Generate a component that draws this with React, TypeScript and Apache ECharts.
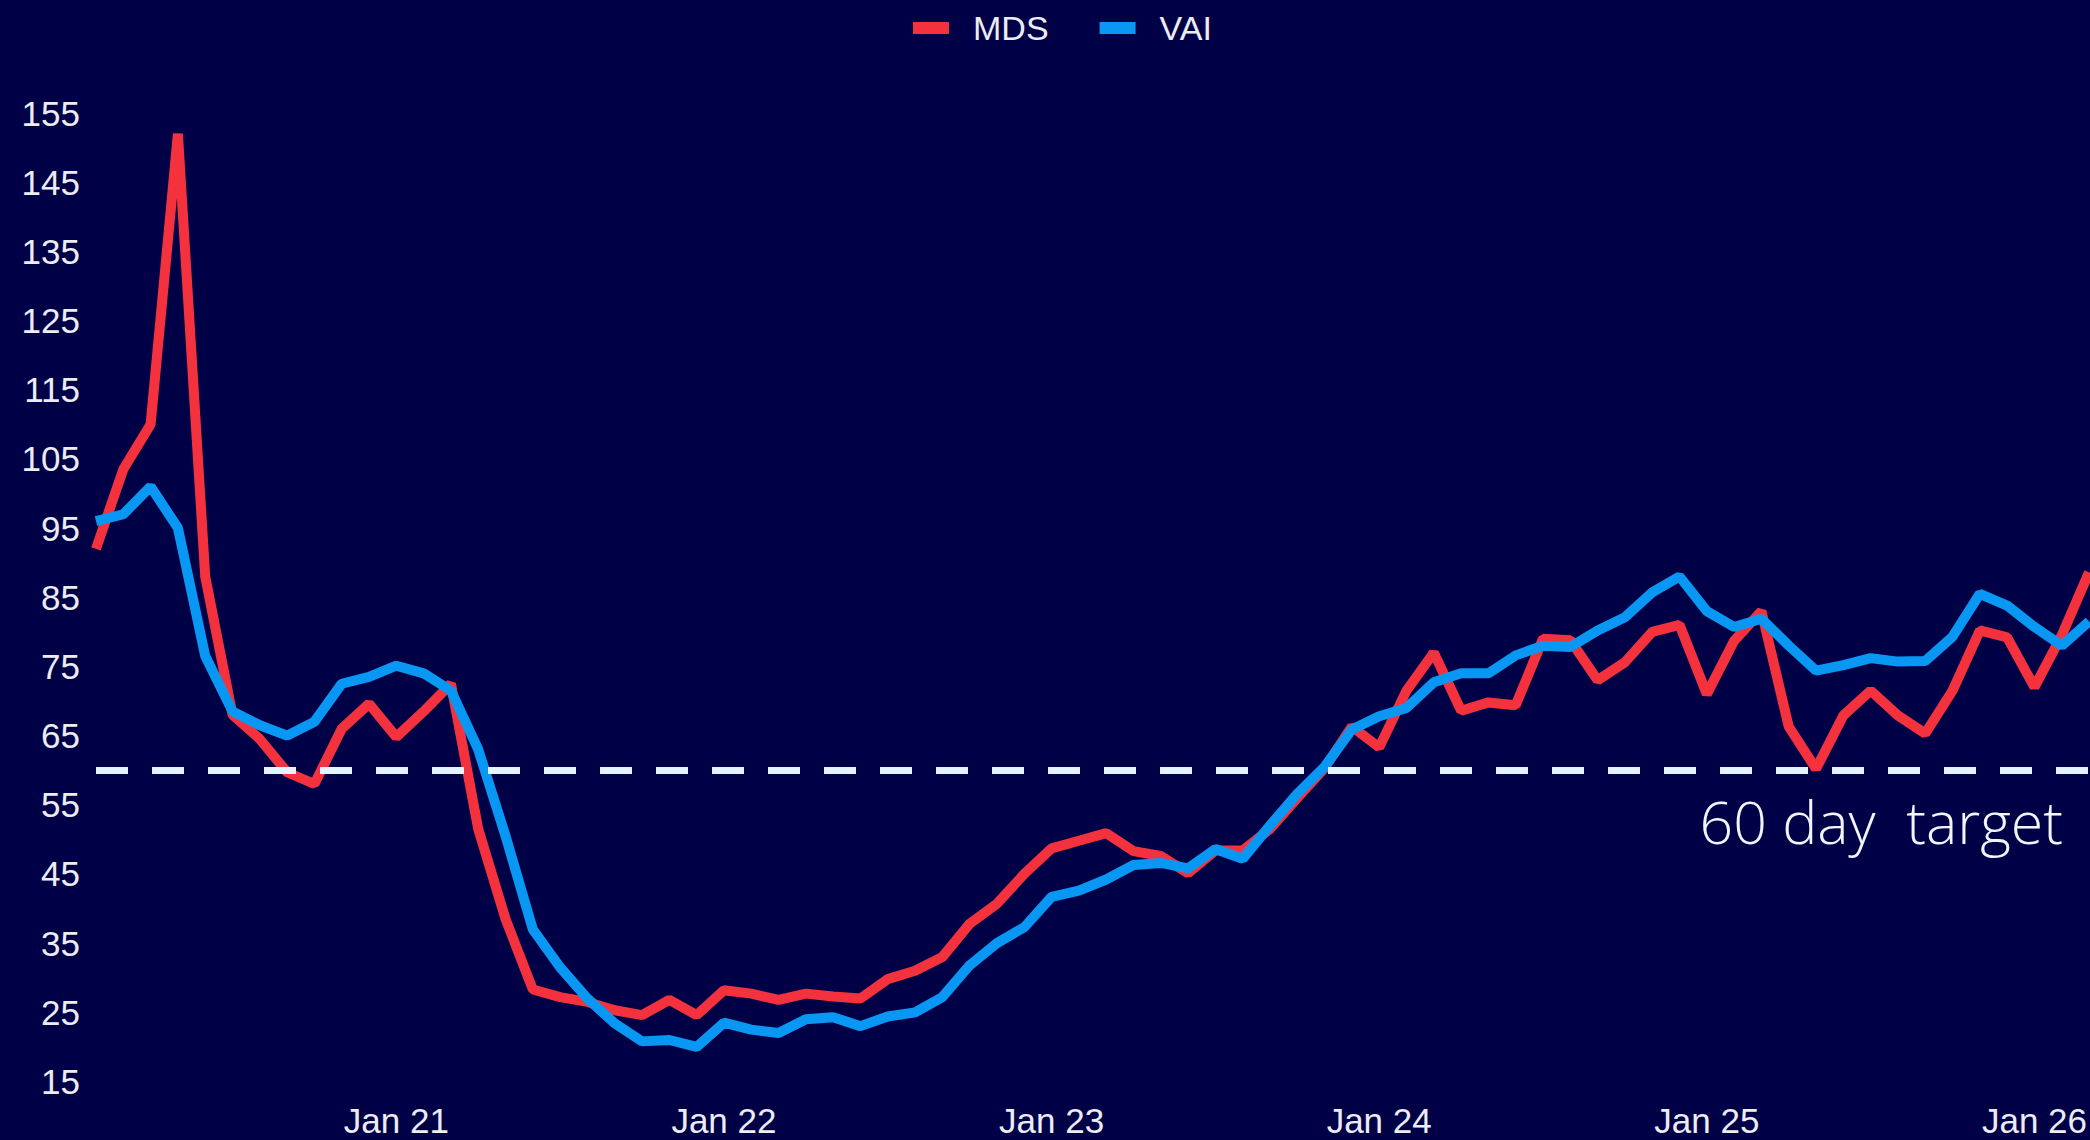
import React, { useEffect, useRef } from "react";
import * as echarts from "echarts";

const MONTHS = [
  "Feb 20", "Mar 20", "Apr 20", "May 20", "Jun 20", "Jul 20", "Aug 20", "Sep 20", "Oct 20", "Nov 20", "Dec 20",
  "Jan 21", "Feb 21", "Mar 21", "Apr 21", "May 21", "Jun 21", "Jul 21", "Aug 21", "Sep 21", "Oct 21", "Nov 21", "Dec 21",
  "Jan 22", "Feb 22", "Mar 22", "Apr 22", "May 22", "Jun 22", "Jul 22", "Aug 22", "Sep 22", "Oct 22", "Nov 22", "Dec 22",
  "Jan 23", "Feb 23", "Mar 23", "Apr 23", "May 23", "Jun 23", "Jul 23", "Aug 23", "Sep 23", "Oct 23", "Nov 23", "Dec 23",
  "Jan 24", "Feb 24", "Mar 24", "Apr 24", "May 24", "Jun 24", "Jul 24", "Aug 24", "Sep 24", "Oct 24", "Nov 24", "Dec 24",
  "Jan 25", "Feb 25", "Mar 25", "Apr 25", "May 25", "Jun 25", "Jul 25", "Aug 25", "Sep 25", "Oct 25", "Nov 25", "Dec 25",
  "Jan 26", "Feb 26", "Mar 26",
];

const MDS = [
  92, 103.5, 110, 152, 88, 68, 64.5, 59.7, 58, 66, 69.6,
  64.8, 68.5, 72.5, 51.5, 38.5, 28.3, 27.2, 26.5, 25.3, 24.6, 26.8, 24.6,
  28.2, 27.7, 26.8, 27.7, 27.3, 27, 29.8, 31, 33, 37.8, 40.7, 45,
  48.7, 49.8, 50.9, 48.3, 47.6, 45.1, 48.4, 48.4, 51.5, 56, 60.3, 66.3,
  63.3, 71.5, 77, 68.6, 69.8, 69.4, 79, 78.8, 73, 75.6, 80, 81,
  71, 78.7, 83, 66.3, 60.2, 67.9, 71.5, 67.9, 65.3, 71.5, 80.2, 79.2,
  72, 79.5, 88.6,
];

const VAI = [
  96, 97, 101, 95, 76.5, 68.5, 66.5, 65, 67, 72.5, 73.5,
  75.1, 74, 71.5, 63, 50.5, 37, 31.5, 27, 23.4, 20.8, 21, 20,
  23.5, 22.5, 22, 24, 24.3, 23, 24.4, 25, 27.2, 31.8, 35, 37.3,
  41.7, 42.6, 44.2, 46.3, 46.6, 45.8, 48.6, 47.2, 52, 56.6, 60.5, 65.9,
  67.8, 69, 72.7, 74, 74, 76.6, 78, 77.8, 80.2, 82.1, 85.7, 88,
  83, 80.7, 81.9, 78, 74.4, 75.2, 76.2, 75.7, 75.8, 79.3, 85.5, 83.8,
  80.7, 78, 81.5,
];

const TARGET = 60;
const Y_MIN = 15;
const Y_MAX = 155;
const Y_STEP = 10;

const BG = "#000046";
const RED = "#F4323E";
const BLUE = "#0898F4";
const TEXT = "#ECECF4";
const FONT = "'Liberation Sans', Arial, sans-serif";

export default function App() {
  const ref = useRef<HTMLDivElement>(null);

  useEffect(() => {
    if (!ref.current) return;
    const chart = echarts.init(ref.current, undefined, { renderer: "svg" });
    chart.setOption({
      animation: false,
      backgroundColor: BG,
      grid: { left: 96, right: 0, top: 113, bottom: 58.5, containLabel: false },
      legend: {
        data: ["MDS", "VAI"],
        left: 908,
        top: 6,
        icon: "rect",
        itemWidth: 36,
        itemHeight: 12,
        itemGap: 51,
        textStyle: { color: TEXT, fontSize: 34, fontFamily: FONT, padding: [0, 0, 0, 19] },
      },
      xAxis: {
        type: "category",
        data: MONTHS,
        boundaryGap: false,
        axisLine: { show: false },
        axisTick: { show: false },
        splitLine: { show: false },
        axisLabel: {
          interval: (_i: number, v: string) => v.startsWith("Jan"),
          color: TEXT,
          fontSize: 35,
          fontFamily: FONT,
          margin: 21,
          hideOverlap: false,
        },
      },
      yAxis: {
        type: "value",
        min: Y_MIN,
        max: Y_MAX,
        interval: Y_STEP,
        axisLine: { show: false },
        axisTick: { show: false },
        splitLine: { show: false },
        axisLabel: { color: TEXT, fontSize: 35, fontFamily: FONT, margin: 16 },
      },
      series: [
        {
          name: "MDS",
          type: "line",
          data: MDS,
          symbol: "none",
          lineStyle: { color: RED, width: 10 },
          itemStyle: { color: RED },
        },
        {
          name: "VAI",
          type: "line",
          data: VAI,
          symbol: "none",
          lineStyle: { color: BLUE, width: 10 },
          itemStyle: { color: BLUE },
          markLine: {
            silent: true,
            symbol: ["none", "none"],
            label: { show: false },
            lineStyle: { color: "#E4F3FF", width: 7, type: [32, 24] },
            data: [{ yAxis: TARGET }],
          },
        },
      ],
      graphic: [
        {
          type: "text",
          right: 27,
          top: 791,
          style: {
            text: "60 day  target",
            fill: "#F2F4FF",
            fontSize: 59,
            fontWeight: 300,
            fontFamily: "'Open Sans', Lato, sans-serif",
          },
        },
      ],
    });
    return () => chart.dispose();
  }, []);

  return (
    <div
      ref={ref}
      style={{ position: "absolute", left: 0, top: 0, width: 2090, height: 1140 }}
    />
  );
}
